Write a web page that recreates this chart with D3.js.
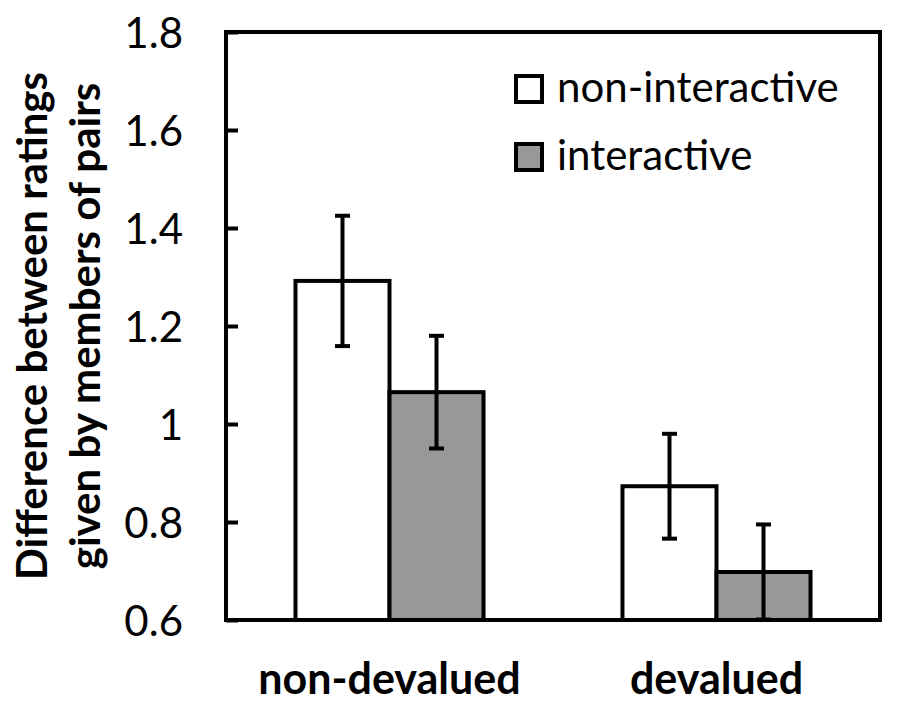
<!DOCTYPE html>
<html>
<head>
<meta charset="utf-8">
<script src="https://cdn.jsdelivr.net/npm/d3@7"></script>
<style>
  html, body { margin: 0; padding: 0; background: #fff; }
  svg { display: block; }
  text { font-family: Lato, "Open Sans", sans-serif; fill: #000; }
</style>
</head>
<body>
<svg id="chart" width="900" height="708"></svg>
<script>
// ---- data ----
const categories = ["non-devalued", "devalued"];
const seriesNames = ["non-interactive", "interactive"];
const nonInteractive = [1.292, 0.873];
const nonInteractiveErr = [0.133, 0.107];
const interactive = [1.065, 0.698];
const interactiveErr = [0.115, 0.097];
const yTicks = [0.6, 0.8, 1.0, 1.2, 1.4, 1.6, 1.8];
const yTickLabels = ["0.6", "0.8", "1", "1.2", "1.4", "1.6", "1.8"];
const yTitleLines = ["Difference between ratings", "given by members of pairs"];

// ---- layout ----
const svg = d3.select("#chart");
const pLeft = 226, pRight = 880, pTop = 32, pBottom = 620;
const fills = ["#ffffff", "#989898"];
const sw = 4;

const x0 = d3.scaleBand().domain(categories).range([pLeft, pRight])
  .paddingInner(0.425).paddingOuter(0.2125);
const x1 = d3.scaleBand().domain(seriesNames).range([0, x0.bandwidth()]).padding(0);
const y = d3.scaleLinear().domain([0.6, 1.8]).range([pBottom, pTop]);

const rows = categories.map((c, i) => ({
  cat: c,
  vals: [
    { s: seriesNames[0], v: nonInteractive[i], e: nonInteractiveErr[i] },
    { s: seriesNames[1], v: interactive[i], e: interactiveErr[i] }
  ]
}));

// bars
const g = svg.append("g");
rows.forEach(r => {
  r.vals.forEach((d, j) => {
    g.append("rect")
      .attr("x", x0(r.cat) + x1(d.s))
      .attr("y", y(d.v))
      .attr("width", x1.bandwidth())
      .attr("height", y(0.6) - y(d.v))
      .attr("fill", fills[j])
      .attr("stroke", "#000")
      .attr("stroke-width", sw);
  });
});

// error bars
const capW = 15;
rows.forEach(r => {
  r.vals.forEach(d => {
    const cx = x0(r.cat) + x1(d.s) + x1.bandwidth() / 2;
    const eg = g.append("g").attr("stroke", "#000").attr("stroke-width", sw);
    eg.append("line").attr("x1", cx).attr("x2", cx)
      .attr("y1", y(d.v + d.e)).attr("y2", y(d.v - d.e));
    eg.append("line").attr("x1", cx - capW / 2).attr("x2", cx + capW / 2)
      .attr("y1", y(d.v + d.e)).attr("y2", y(d.v + d.e));
    eg.append("line").attr("x1", cx - capW / 2).attr("x2", cx + capW / 2)
      .attr("y1", y(d.v - d.e)).attr("y2", y(d.v - d.e));
  });
});

// frame
svg.append("rect")
  .attr("x", pLeft).attr("y", pTop)
  .attr("width", pRight - pLeft).attr("height", pBottom - pTop)
  .attr("fill", "none").attr("stroke", "#000").attr("stroke-width", sw);

// y axis (ticks inward)
const yAxis = d3.axisLeft(y).tickValues(yTicks)
  .tickFormat((d, i) => yTickLabels[i]).tickSize(-12).tickPadding(43);
const ya = svg.append("g").attr("transform", `translate(${pLeft},0)`).call(yAxis);
ya.select(".domain").remove();
ya.selectAll(".tick line").attr("stroke", "#000").attr("stroke-width", sw);
ya.selectAll(".tick text")
  .style("font-family", "Lato, sans-serif")
  .style("font-size", "42px")
  .attr("fill", "#000")
  .attr("dy", "0.36em");

// x category labels
svg.append("g").selectAll("text").data(categories).join("text")
  .attr("x", d => x0(d) + x0.bandwidth() / 2)
  .attr("y", 694)
  .attr("text-anchor", "middle")
  .style("font-size", "43px")
  .style("font-weight", "bold")
  .text(d => d);

// y title
const yt = svg.append("g").attr("transform", "translate(0,326) rotate(-90)");
yTitleLines.forEach((t, i) => {
  yt.append("text")
    .attr("x", 0).attr("y", 47 + i * 53)
    .attr("text-anchor", "middle")
    .style("font-size", "42px")
    .style("font-weight", "bold")
    .text(t);
});

// legend
const lg = svg.append("g");
seriesNames.forEach((s, i) => {
  const ly = 75 + i * 68;
  lg.append("rect").attr("x", 516).attr("y", ly + 1)
    .attr("width", 26).attr("height", 26)
    .attr("fill", fills[i]).attr("stroke", "#000").attr("stroke-width", 4);
  lg.append("text").attr("x", 557).attr("y", ly + 27)
    .style("font-size", "42px")
    .text(s);
});
</script>
</body>
</html>
